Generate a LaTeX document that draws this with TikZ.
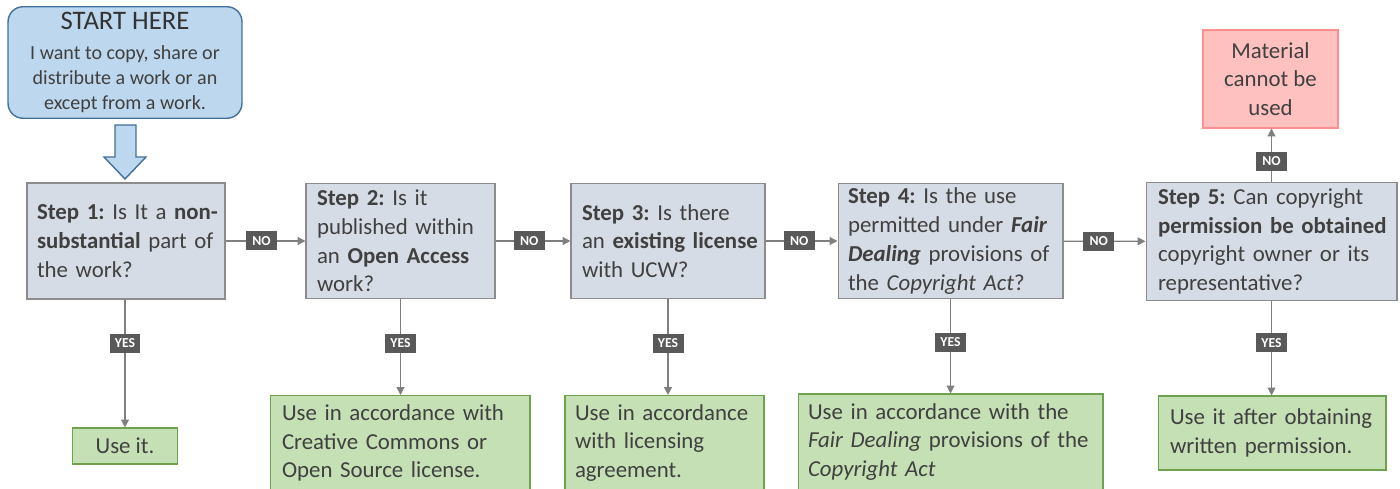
\documentclass[tikz,border=0pt]{standalone}
\usepackage{fontspec}
\setmainfont{Carlito}
\usetikzlibrary{arrows.meta}
\definecolor{txtgray}{HTML}{404040}
\definecolor{stepfill}{HTML}{D6DCE5}
\definecolor{stepline}{HTML}{8C8C8C}
\definecolor{okfill}{HTML}{C5E0B4}
\definecolor{okline}{HTML}{6FA24C}
\definecolor{nofill}{HTML}{FFC0C0}
\definecolor{noline}{HTML}{FF8F8F}
\definecolor{startfill}{HTML}{BDD7EE}
\definecolor{startline}{HTML}{41719C}
\definecolor{conngray}{HTML}{7F7F7F}
\definecolor{lblgray}{HTML}{595959}
\begin{document}
\begin{tikzpicture}[x=0.02cm,y=-0.02cm,
    txt/.style={text=txtgray,font=\frenchspacing\fontsize{13}{16.4}\selectfont},
    lpad/.style={execute at begin node={\leftskip=#1\relax}},
    stepbox/.style={txt,draw=stepline,fill=stepfill,line width=0.6pt,align=left,
      inner xsep=0.04cm,inner ysep=0pt,minimum height=2.30cm,lpad=0.18cm},
    okbox/.style={txt,draw=okline,fill=okfill,line width=0.6pt,align=left,
      inner xsep=0.04cm,inner ysep=0pt,lpad=0.2cm},
    lbl/.style={fill=lblgray,text=white,font=\bfseries\fontsize{7.8}{8}\selectfont,
      inner sep=1pt,minimum width=0.62cm,minimum height=0.38cm},
    conn/.style={draw=conngray,line width=0.7pt,-{Triangle[length=4.5pt,width=4.5pt]}}]
  \useasboundingbox (0,0) rectangle (1400,489);
  \node[draw=startline,fill=startfill,line width=0.8pt,rounded corners=0.3cm,
    minimum width=4.68cm,minimum height=2.18cm,align=center,text=txtgray,
    font=\frenchspacing\fontsize{11.4}{14.2}\selectfont] (start) at(125,62.5)
    {{\fontsize{15.2}{17}\selectfont\color{black!80}START HERE}\\[2.5pt]
     I want to copy, share or\\distribute a work or an\\except from a work.};
  \filldraw[fill=startfill,draw=startline,line width=0.8pt,line join=miter]
    (115,125) -- (136,125) -- (136,157) -- (146,157) -- (125,179) -- (104,157)
    -- (115,157) -- cycle;
  \node[stepbox,text width=3.88cm,lpad=0.16cm,minimum height=2.32cm] (s1) at(126,241)
    {\textbf{Step 1:} Is It a \textbf{non-}\\\textbf{substantial} part of\\the work?};
  \node[stepbox,text width=3.70cm] (s2) at(400.5,241)
    {\textbf{Step 2:} Is it\\published within\\an \textbf{Open Access}\\work?};
  \node[stepbox,text width=3.80cm] (s3) at(668,241)
    {\textbf{Step 3:} Is there\\an \textbf{existing license}\\with UCW?};
  \node[stepbox,text width=4.42cm,lpad=0.16cm] (s4) at(950.5,241)
    {\textbf{Step 4:} Is the use\\permitted under \textbf{\textit{Fair}}\\
     \textbf{\textit{Dealing}} provisions of\\the \textit{Copyright Act}?};
  \node[stepbox,text width=4.94cm,lpad=0.2cm,minimum height=2.36cm] (s5) at(1271.5,241.5)
    {\textbf{Step 5:} Can copyright\\\textbf{permission be obtained}\\
     copyright owner or its\\representative?};
  \node[txt,draw=noline,fill=nofill,line width=0.6pt,align=center,
    minimum width=2.7cm,minimum height=1.96cm] (m) at(1270.5,79)
    {Material\\cannot be\\used};
  \node[okbox,align=center,lpad=0pt,minimum width=2.1cm,minimum height=0.72cm] (r1) at(125,446)
    {Use it.};
  \node[okbox,text width=5.12cm,minimum height=1.9cm] (r2) at(400,443)
    {Use in accordance with\\Creative Commons or\\Open Source license.};
  \node[okbox,text width=3.90cm,lpad=0.16cm,minimum height=1.9cm] (r3) at(664.5,443)
    {Use in accordance\\with licensing\\agreement.};
  \node[okbox,text width=6.02cm,lpad=0.16cm,minimum height=1.92cm] (r4) at(950.5,442)
    {Use in accordance with the\\\textit{Fair Dealing} provisions of the\\
     \textit{Copyright Act}};
  \node[okbox,text width=4.48cm,minimum height=1.48cm] (r5) at(1272,433)
    {Use it after obtaining\\written permission.};
  \draw[conn] (s1) -- node[lbl,pos=.45]{NO} (s2);
  \draw[conn] (s2) -- node[lbl,pos=.45]{NO} (s3);
  \draw[conn] (s3) -- node[lbl,pos=.47]{NO} (s4);
  \draw[conn] (s4) -- node[lbl,pos=.43]{NO} (s5);
  \draw[conn] (s5) -- node[lbl,pos=.39]{NO} (s5 |- m.south);
  \draw[conn] (r1 |- s1.south) -- node[lbl,pos=.34]{YES} (r1);
  \draw[conn] (s2) -- node[lbl,pos=.46]{YES} (s2 |- r2.north);
  \draw[conn] (s3) -- node[lbl,pos=.46]{YES} (s3 |- r3.north);
  \draw[conn] (s4) -- node[lbl,pos=.46]{YES} (s4 |- r4.north);
  \draw[conn] (s5) -- node[lbl,pos=.44]{YES} (s5 |- r5.north);
\end{tikzpicture}
\end{document}
